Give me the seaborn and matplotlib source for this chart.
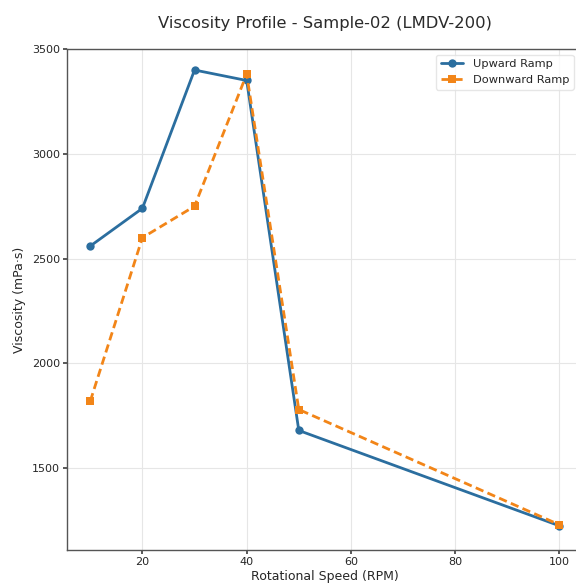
import matplotlib
matplotlib.use("Agg")
import matplotlib.pyplot as plt
import seaborn as sns
import pandas as pd

speed = [10, 20, 30, 40, 50, 100]
upward = [2560, 2740, 3400, 3350, 1680, 1225]
downward = [1820, 2600, 2750, 3380, 1780, 1230]
series_names = ["Upward Ramp", "Downward Ramp"]

df = pd.DataFrame({
    "Speed": speed * 2,
    "Viscosity": upward + downward,
    "Series": [series_names[0]] * len(speed) + [series_names[1]] * len(speed),
})

sns.set_theme(style="whitegrid")
plt.rcParams['font.family'] = ['DejaVu Sans']

fig, ax = plt.subplots(figsize=(5.76, 5.84), dpi=100)
fig.subplots_adjust(left=0.116, right=1.012, top=0.916, bottom=0.058)

sns.lineplot(data=df, x="Speed", y="Viscosity", hue="Series", style="Series",
             markers={"Upward Ramp": "o", "Downward Ramp": "s"},
             dashes={"Upward Ramp": "", "Downward Ramp": (3, 1.6)},
             palette={"Upward Ramp": "#2b6e9f", "Downward Ramp": "#f28518"},
             linewidth=2, markersize=6, markeredgewidth=0, ax=ax)

ax.set_xlim(5.5, 104.5)
ax.set_ylim(1109, 3500)
ax.set_xticks([20, 40, 60, 80, 100])
ax.set_yticks([1500, 2000, 2500, 3000, 3500])
ax.tick_params(axis='both', labelsize=8, length=3, color="#444444", left=True, bottom=True, pad=2)
ax.grid(True, color="#e6e6e6", linewidth=0.8)
for s in ax.spines.values():
    s.set_color("#555555")
    s.set_linewidth(1.0)

ax.set_title("Viscosity Profile - Sample-02 (LMDV-200)", fontsize=11.8, pad=15, color="#2a2a2a")
ax.set_xlabel("Rotational Speed (RPM)", fontsize=9, labelpad=2)
ax.set_ylabel("Viscosity (mPa·s)", fontsize=9)

leg = ax.legend(loc="upper right", bbox_to_anchor=(0.993, 1.0), fontsize=8.2, frameon=True, title=None)
leg.get_frame().set_edgecolor("#e0e0e0")

fig.savefig("out.png", dpi=100)
